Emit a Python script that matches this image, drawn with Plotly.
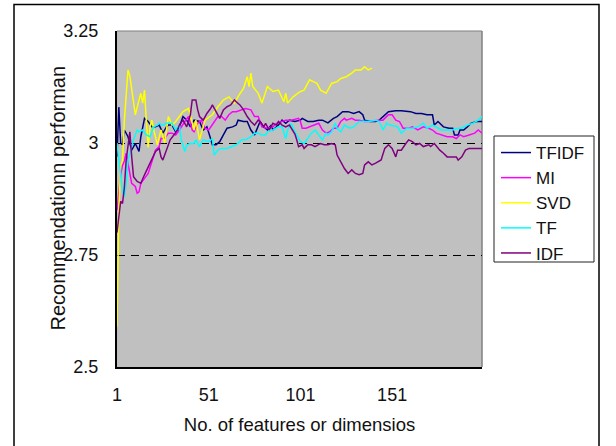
import plotly.graph_objects as go

# ---- data ----
tfidf_x = [1,2,3,4,5,7,9,11,13,14,16,18,20,22,24,26,28,29,31,33,35,37,39,41,43,46,48,50,52,53,55,57,59,61,64,66,67,70,72,74,76,77,79,81,83,85,86,89,91,93,95,98,101,102,105,108,111,113,116,119,121,124,127,130,133,135,136,139,142,144,146,149,153,156,161,164,167,170,173,174,176,179,182,184,185,187,188,190,192,194,197,200]
tfidf_y = [2.97,3.08,3.0,2.996,3.029,3.014,2.984,2.999,2.981,3.014,3.055,3.048,3.036,3.036,3.04,3.022,3.036,3.04,3.04,3.025,3.036,3.059,3.051,3.036,3.051,3.048,3.029,3.036,3.01,2.996,2.996,3.003,3.018,3.033,3.036,3.04,3.051,3.048,3.048,3.029,3.018,3.029,3.048,3.036,3.029,3.04,3.029,3.04,3.051,3.044,3.051,3.048,3.051,3.055,3.048,3.048,3.051,3.051,3.045,3.055,3.059,3.07,3.07,3.066,3.07,3.063,3.051,3.048,3.048,3.051,3.059,3.07,3.072,3.072,3.07,3.066,3.066,3.063,3.063,3.04,3.048,3.036,3.033,3.033,3.018,3.018,3.029,3.029,3.036,3.044,3.048,3.048]

mi_x = [1,2,3,4,5,6,9,11,12,13,14,16,18,20,22,24,25,27,29,31,33,35,36,38,40,42,43,45,47,49,51,53,55,56,58,60,62,64,66,69,71,74,76,78,80,83,86,88,91,93,96,99,100,101,102,104,106,109,111,113,115,117,119,121,123,125,126,129,131,133,136,138,142,144,146,149,151,153,155,157,160,162,165,168,171,173,175,178,181,184,186,188,190,193,196,198,200]
mi_y = [2.85,2.90,2.93,2.95,2.96,2.977,2.91,2.903,2.888,2.891,2.91,2.921,2.932,2.958,2.984,2.992,3.01,3.01,3.022,3.022,3.018,3.029,3.036,3.048,3.059,3.029,3.025,3.044,3.051,3.033,3.029,3.04,3.051,3.059,3.059,3.051,3.063,3.07,3.07,3.074,3.077,3.074,3.059,3.059,3.036,3.033,3.036,3.044,3.048,3.051,3.051,3.055,3.055,3.048,3.033,3.033,3.036,3.04,3.044,3.029,3.022,3.025,3.033,3.033,3.048,3.055,3.051,3.055,3.051,3.051,3.048,3.048,3.051,3.051,3.051,3.063,3.063,3.051,3.048,3.033,3.033,3.036,3.029,3.036,3.033,3.029,3.022,3.018,3.014,3.014,3.01,3.018,3.014,3.018,3.022,3.029,3.022]

svd_x = [1,2,3,4,5,6,7,8,9,10,11,12,14,15,16,17,18,19,20,21,23,25,27,29,31,33,37,40,43,44,46,49,53,56,59,62,65,68,70,72,73,74,75,78,80,83,86,89,92,93,94,97,99,101,103,105,106,108,110,112,115,118,121,123,126,129,131,134,136,138,140]
svd_y = [2.59,2.85,2.95,2.96,3.05,3.12,3.163,3.15,3.12,3.09,3.063,3.08,3.111,3.089,3.118,3.05,2.99,3.036,3.051,3.03,2.996,3.029,3.0,3.059,3.04,3.048,3.07,3.077,3.029,3.051,3.007,3.051,3.063,3.081,3.096,3.103,3.089,3.11,3.122,3.148,3.126,3.156,3.126,3.111,3.089,3.126,3.115,3.118,3.092,3.111,3.089,3.103,3.11,3.115,3.118,3.133,3.141,3.137,3.133,3.118,3.111,3.133,3.137,3.144,3.148,3.156,3.163,3.163,3.17,3.163,3.167]

tf_x = [1,2,3,4,5,6,7,10,12,13,15,17,19,21,23,24,26,28,31,33,35,36,38,39,41,43,44,46,48,51,53,54,56,58,61,64,66,69,71,74,76,78,80,82,83,86,89,91,93,94,96,98,100,101,103,105,107,109,111,113,115,116,118,120,121,123,125,128,130,133,136,138,142,144,146,148,150,153,154,156,159,162,165,168,170,173,176,178,181,184,187,189,192,195,198,200]
tf_y = [3.0,2.96,2.92,2.89,2.88,2.91,2.962,3.007,3.029,3.025,3.029,3.018,3.014,3.036,3.04,3.044,3.04,3.044,3.044,3.029,3.04,3.007,2.981,2.996,2.999,2.999,3.007,2.992,3.007,3.003,3.01,2.973,2.984,2.988,2.988,2.992,2.996,3.007,3.007,3.014,3.022,3.022,3.018,3.018,3.025,3.029,3.036,3.036,3.01,3.029,3.044,3.025,3.01,3.003,2.999,3.01,3.022,3.029,3.018,3.007,3.022,3.018,3.025,3.044,3.033,3.025,3.04,3.033,3.036,3.048,3.048,3.048,3.051,3.048,3.029,3.044,3.04,3.036,3.036,3.022,3.033,3.033,3.036,3.044,3.033,3.04,3.033,3.029,3.029,3.029,3.033,3.033,3.04,3.044,3.051,3.059]

idf_x = [1,2,3,4,5,6,7,8,9,10,12,14,16,18,20,22,24,25,26,28,30,32,34,35,37,39,41,42,44,45,46,48,50,52,53,55,57,59,61,63,65,66,68,70,72,74,76,78,79,81,82,84,86,88,89,91,93,95,97,98,99,100,102,103,105,107,109,111,112,114,116,118,120,121,123,125,127,129,131,133,135,136,138,140,142,145,147,149,151,153,154,156,158,160,162,164,166,168,171,172,174,177,179,181,184,186,187,189,191,193,195,197,200]
idf_y = [2.80,2.84,2.87,2.865,2.90,2.962,3.0,3.025,2.97,2.925,2.914,2.91,2.929,2.947,2.962,2.981,2.988,2.969,2.962,2.984,3.007,3.018,3.029,3.04,3.051,3.036,3.063,3.096,3.096,3.074,3.059,3.051,3.066,3.077,3.085,3.07,3.055,3.074,3.081,3.085,3.096,3.092,3.085,3.074,3.059,3.048,3.04,3.051,3.048,3.036,3.044,3.029,3.044,3.04,3.048,3.04,3.036,3.04,3.025,3.02,3.007,2.992,2.996,2.988,2.996,2.996,2.992,2.996,2.999,2.996,2.996,2.999,2.996,2.973,2.958,2.943,2.932,2.94,2.932,2.929,2.932,2.951,2.958,2.951,2.955,2.962,2.988,2.996,2.988,2.969,2.984,2.984,2.996,3.007,3.003,2.996,2.999,2.992,2.996,2.992,2.999,2.984,2.977,2.969,2.969,2.969,2.962,2.969,2.984,2.988,2.988,2.988,2.988]

series_names = ["TFIDF", "MI", "SVD", "TF", "IDF"]
series_colors = ["#000080", "#FF00FF", "#FFFF00", "#00FFFF", "#800080"]
series_x = [tfidf_x, mi_x, svd_x, tf_x, idf_x]
series_y = [tfidf_y, mi_y, svd_y, tf_y, idf_y]

x_tickvals = [1, 51, 101, 151]
x_ticktext = ["1", "51", "101", "151"]
y_tickvals = [2.5, 2.75, 3.0, 3.25]
y_ticktext = ["2.5", "2.75", "3", "3.25"]

FONT = "Liberation Sans, Arial, sans-serif"

fig = go.Figure()
for name, color, xs, ys in zip(series_names, series_colors, series_x, series_y):
    fig.add_trace(go.Scatter(x=xs, y=ys, mode="lines", name=name,
                             line=dict(color=color, width=1.5)))

# body margin is removed in the page, so figure px == screen px
L, R, T, B = 117, 482, 31, 367
W, H = 616, 446
pw, ph = R - L, B - T

def px_x(p):  # screen px -> paper
    return (p - L) / pw

def px_y(p):
    return (B - p) / ph

fig.update_layout(
    width=W, height=H,
    margin=dict(l=L, r=W - R, t=T, b=H - B, pad=0),
    paper_bgcolor="white",
    plot_bgcolor="#C0C0C0",
    font=dict(family=FONT, size=18, color="#111111"),
    showlegend=True,
    hovermode=False,
    legend=dict(
        x=px_x(496), y=px_y(135), xanchor="left", yanchor="top",
        bgcolor="rgba(0,0,0,0)", borderwidth=0,
        font=dict(family=FONT, size=17, color="#111111"),
        tracegroupgap=0,
    ),
    xaxis=dict(
        range=[1, 200], tickmode="array", tickvals=x_tickvals, ticktext=x_ticktext,
        showgrid=False, zeroline=False, showline=True, linecolor="#000000", linewidth=2,
        ticks="", ticklabelstandoff=10,
        title=dict(text="No. of features or dimensios", font=dict(size=18.5), standoff=14),
    ),
    yaxis=dict(
        range=[2.5, 3.25], tickmode="array", tickvals=y_tickvals, ticktext=y_ticktext,
        showgrid=True, gridcolor="#000000", gridwidth=1, griddash="8px,6px",
        zeroline=False, showline=True, linecolor="#000000", linewidth=2,
        ticks="", ticklabelstandoff=13,
    ),
)

# y-axis title as rotated text (sits close to the tick labels, as in the reference)
fig.add_annotation(text="Recommendationn performan", xref="paper", yref="paper",
                   x=px_x(57), y=px_y(198.5), xanchor="center", yanchor="middle",
                   textangle=-90, showarrow=False,
                   font=dict(family=FONT, size=20, color="#111111"))

# legend box
fig.add_shape(type="rect", xref="paper", yref="paper",
              x0=px_x(494), x1=px_x(594), y0=px_y(262), y1=px_y(136),
              line=dict(color="#222222", width=1), fillcolor="white", layer="below")
# gray top/right borders of plot area
fig.add_shape(type="line", xref="paper", yref="paper", x0=1, x1=1, y0=0, y1=1,
              line=dict(color="#808080", width=1.5), layer="below")
fig.add_shape(type="line", xref="paper", yref="paper", x0=0, x1=1, y0=1, y1=1,
              line=dict(color="#808080", width=1), layer="below")
# outer chart border
fig.add_shape(type="rect", xref="paper", yref="paper",
              x0=px_x(14), x1=px_x(599), y0=px_y(448), y1=px_y(4.5),
              line=dict(color="#000000", width=1.5), fillcolor="rgba(0,0,0,0)")

fig.write_html("out.html", config={"displayModeBar": False},
               post_script="document.body.style.margin='0';document.body.style.overflow='hidden';")
